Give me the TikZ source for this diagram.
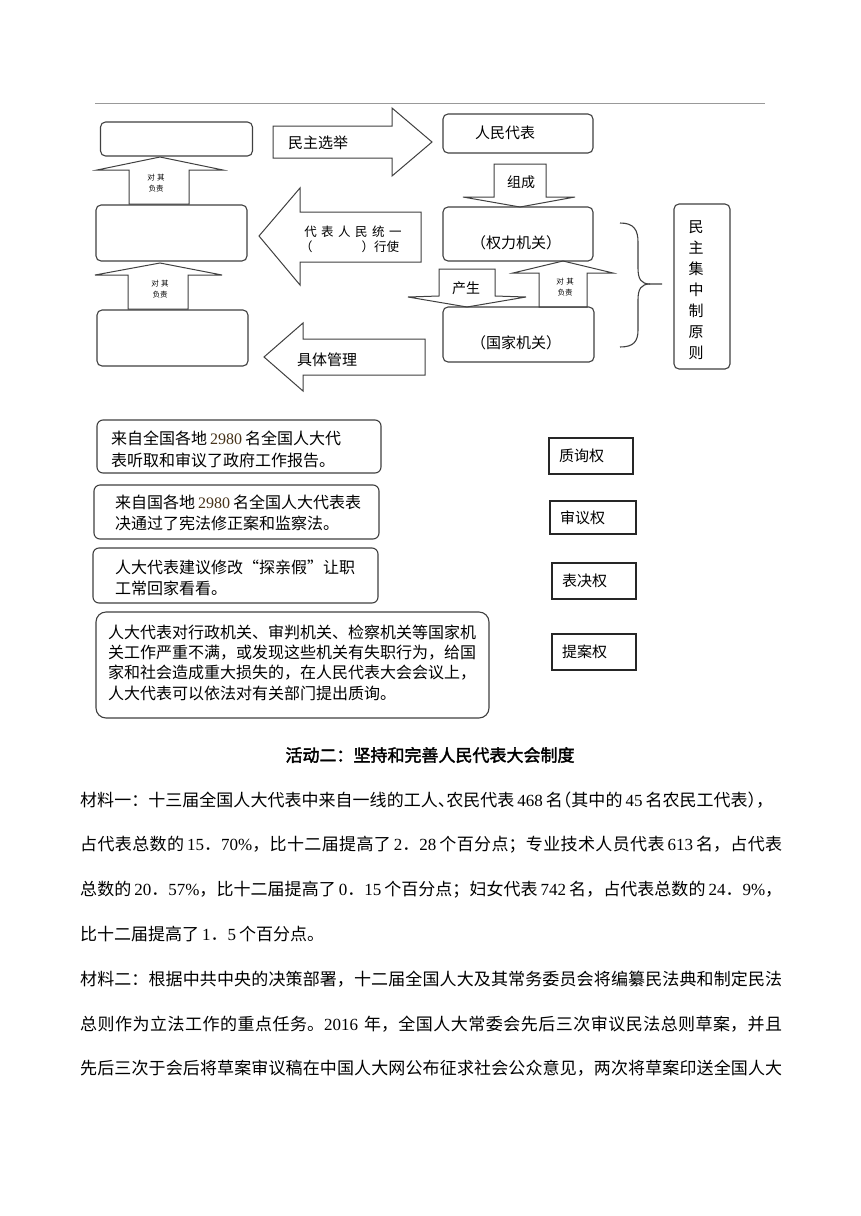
\documentclass[tikz,border=0pt]{standalone}
\usepackage{fontspec}
\setmainfont{Noto Sans CJK SC}[AutoFakeBold=2]
\newfontfamily\latfont{Liberation Serif}
\XeTeXlinebreaklocale "zh"
\XeTeXlinebreakskip=0pt plus 3pt minus 1pt
\definecolor{bdr}{RGB}{64,64,64}
\definecolor{numc}{RGB}{70,50,25}
\newcommand{\latn}[1]{{\latfont #1}}
\newcommand{\nsp}[1]{\hspace{3pt}{\latfont #1}\hspace{3pt}}
\newcommand{\jl}[2]{\parbox{#1pt}{\tolerance=10000\hbadness=10000\noindent\parfillskip=0pt\relax #2}}
\newcommand{\lsp}[1]{\makebox[17pt]{#1}}
\newcommand{\hl}[1]{\makebox[8.5pt][l]{#1}}
\newcommand{\hr}[1]{\makebox[8.5pt][r]{#1}}
\begin{document}
\begin{tikzpicture}[x=1pt,y=-1pt,
  rbox/.style={draw=bdr,line width=1.1pt,rounded corners=5pt,inner sep=0pt},
  sbox/.style={draw=black!85,line width=1.2pt,inner sep=0pt},
  blk/.style={draw=bdr,line width=1pt,fill=white,line join=miter},
  t15/.style={inner sep=0pt,font=\fontsize{15}{18}\selectfont},
  t14/.style={inner sep=0pt,font=\fontsize{14}{17}\selectfont},
  t16/.style={inner sep=0pt,anchor=west,font=\fontsize{16}{20}\selectfont},
  t17/.style={inner sep=0pt,anchor=west,font=\fontsize{17}{20}\selectfont},
  tinytxt/.style={inner sep=0pt,align=center,font=\fontsize{7.5}{10.5}\selectfont},
]
\fill[white] (0,0) rectangle (860,1216);
\useasboundingbox (0,0) rectangle (860,1216);

% top rule
\coordinate (ruleL) at (95,103);
\coordinate (ruleR) at (765,103);
\draw[black!40,line width=0.8pt] (ruleL) -- (ruleR);

% ---------- block arrows ----------
% 民主选举 (right)
\draw[blk] (273,126) -- (392,126) -- (392,108) -- (432,142) -- (392,176) -- (392,158) -- (273,158) -- cycle;
% 代表人民统一行使 (left)
\draw[blk] (421,212) -- (300,212) -- (300,188) -- (259,236) -- (300,285) -- (300,262) -- (421,262) -- cycle;
% 具体管理 (left)
\draw[blk] (425,339) -- (303,339) -- (303,323) -- (264,357) -- (303,391) -- (303,375) -- (425,375) -- cycle;
% up arrow 1
\draw[blk] (129,204) -- (129,170) -- (97,170) -- (160,157) -- (223,170) -- (189,170) -- (189,204) -- cycle;
% up arrow 2
\draw[blk] (128,309) -- (128,275) -- (95,275) -- (160,263) -- (222,275) -- (188,275) -- (188,309) -- cycle;
% 组成 (down)
\draw[blk] (494,164) -- (546,164) -- (546,197) -- (575,197) -- (520,207) -- (463,197) -- (494,197) -- cycle;
% 产生 (down)
\draw[blk] (439,269) -- (495,269) -- (495,296) -- (526,297) -- (467,307) -- (408,297) -- (439,296) -- cycle;
% 对其负责 (up, right side)
\draw[blk] (539,307) -- (539,273) -- (513,273) -- (563,261) -- (613,273) -- (587,273) -- (587,307) -- cycle;

% ---------- boxes ----------
\node[rbox,minimum width=152pt,minimum height=34pt] (b1) at (176.5,139) {};
\node[rbox,minimum width=151pt,minimum height=56pt] (b2) at (171.5,233) {};
\node[rbox,minimum width=151pt,minimum height=56pt] (b3) at (172.5,338) {};
\node[rbox,minimum width=150pt,minimum height=39pt] (rep) at (518,133.5) {};
\node[rbox,minimum width=150pt,minimum height=54pt] (power) at (518,234) {};
\node[rbox,minimum width=151pt,minimum height=55pt] (state) at (518.5,334.5) {};
\node[rbox,minimum width=56pt,minimum height=165pt] (dc) at (702,286.5) {};

% texts in top diagram
\node[t15,anchor=west] (telect) at (288,143) {民主选举};
\node[inner sep=0pt,font=\fontsize{12.5}{15}\selectfont] (texec1) at (353,232) {\lsp{代}\lsp{表}\lsp{人}\lsp{民}\lsp{统}\lsp{一}};
\node[inner sep=0pt,anchor=west,font=\fontsize{12.5}{15}\selectfont] (texec2) at (300,247) {（\hspace{49pt}）行使};
\node[t15,anchor=west] (tmanage) at (297,360) {具体管理};
\node[t15] (trep) at (505,133) {人民代表};
\node[t14] (tcomp) at (521,182) {组成};
\node[t15] (tpower) at (516,243) {（权力机关）};
\node[t14] (tprod) at (466,288) {产生};
\node[t15] (tstate) at (516,343) {（国家机关）};
\node[tinytxt] (tresp1) at (156,183) {对\hspace{2.5pt}其\\负责};
\node[tinytxt] (tresp2) at (160,289) {对\hspace{2.5pt}其\\负责};
\node[tinytxt] (tresp3) at (565,287) {对\hspace{2.5pt}其\\负责};
\node[inner sep=0pt,align=center,font=\fontsize{15}{21}\selectfont] (tdc) at (696,290) {民\\主\\集\\中\\制\\原\\则};

% brace
\coordinate (brT) at (620,223);
\coordinate (brB) at (620,347);
\coordinate (brM) at (662,284);
\draw[bdr,line width=1.1pt] (brT) .. controls (634,223) and (638,230) .. (638,242) -- (638,268) .. controls (638,279) and (641,284) .. (650,284) -- (brM);
\draw[bdr,line width=1.1pt] (650,284) .. controls (641,284) and (638,289) .. (638,300) -- (638,330) .. controls (638,341) and (634,347) .. (brB);

% ---------- lower boxes ----------
\node[rbox,rounded corners=6pt,minimum width=284pt,minimum height=53pt] (ba) at (239,446.5) {};
\node[rbox,rounded corners=6pt,minimum width=285pt,minimum height=54pt] (bb) at (236.5,512) {};
\node[rbox,rounded corners=6pt,minimum width=285pt,minimum height=55pt] (bc) at (235.5,575.5) {};
\node[rbox,rounded corners=10pt,minimum width=393pt,minimum height=106pt] (bd) at (292.5,665) {};

\node[t16] (ta1) at (111,438) {来自全国各地\hspace{3pt}{\latfont\color{numc}2980}\hspace{3pt}名全国人大代};
\node[t16] (ta2) at (111,460) {表听取和审议了政府工作报告。};
\node[t16] (tb1) at (115,502) {来自国各地\hspace{3pt}{\latfont\color{numc}2980}\hspace{3pt}名全国人大代表表};
\node[t16] (tb2) at (115,523) {决通过了宪法修正案和监察法。};
\node[t16] (tc1) at (115,567) {人大代表建议修改“探亲假”让职};
\node[t16] (tc2) at (115,588) {工常回家看看。};
\node[t16] (td1) at (108,632) {人大代表对行政机关、审判机关、检察机关等国家机};
\node[t16] (td2) at (108,653) {关工作严重不满，或发现这些机关有失职行为，给国};
\node[t16] (td3) at (108,673) {家和社会造成重大损失的，在人民代表大会会议上，};
\node[t16] (td4) at (108,693) {人大代表可以依法对有关部门提出质询。};

\node[sbox,minimum width=84pt,minimum height=36pt] (rq) at (591,456) {};
\node[sbox,minimum width=86pt,minimum height=33pt] (rs) at (593,517.5) {};
\node[sbox,minimum width=84pt,minimum height=36pt] (rv) at (594,581) {};
\node[sbox,minimum width=84pt,minimum height=36pt] (rp) at (594,652) {};
\node[t15,anchor=west] (tq) at (559,456) {质询权};
\node[t15,anchor=west] (ts) at (560,517.5) {审议权};
\node[t15,anchor=west] (tv) at (562,581) {表决权};
\node[t15,anchor=west] (tp) at (562,652) {提案权};

% ---------- text below ----------
\node[inner sep=0pt,font=\fontsize{17}{20}\selectfont\bfseries] (title) at (430,755) {活动二：坚持和完善人民代表大会制度};
\node[t17] (p1) at (80,800) {\jl{693}{材料一：十三届全国人大代表中来自一线的工人\hl{、}农民代表\nsp{468}名\hr{（}其中的\nsp{45}名农民工代表\hl{）}，}};
\node[t17] (p2) at (80,845) {\jl{702}{占代表总数的\hspace{3pt}\latn{15}．\latn{70\%}，比十二届提高了\hspace{3pt}\latn{2}．\latn{28}\hspace{3pt}个百分点；专业技术人员代表\nsp{613}名，占代表}};
\node[t17] (p3) at (80,890) {\jl{702}{总数的\hspace{3pt}\latn{20}．\latn{57\%}，比十二届提高了\hspace{3pt}\latn{0}．\latn{15}\hspace{3pt}个百分点；妇女代表\nsp{742}名，占代表总数的\hspace{3pt}\latn{24}．\latn{9\%}，}};
\node[t17] (p4) at (80,934) {比十二届提高了\hspace{3pt}\latn{1}．\latn{5}\hspace{3pt}个百分点。};
\node[t17] (p5) at (80,979) {\jl{702}{材料二：根据中共中央的决策部署，十二届全国人大及其常务委员会将编纂民法典和制定民法}};
\node[t17] (p6) at (80,1024) {\jl{702}{总则作为立法工作的重点任务。\latn{2016}\hspace{6pt}年，全国人大常委会先后三次审议民法总则草案，并且}};
\node[t17] (p7) at (80,1068) {\jl{702}{先后三次于会后将草案审议稿在中国人大网公布征求社会公众意见，两次将草案印送全国人大}};
\end{tikzpicture}
\end{document}
